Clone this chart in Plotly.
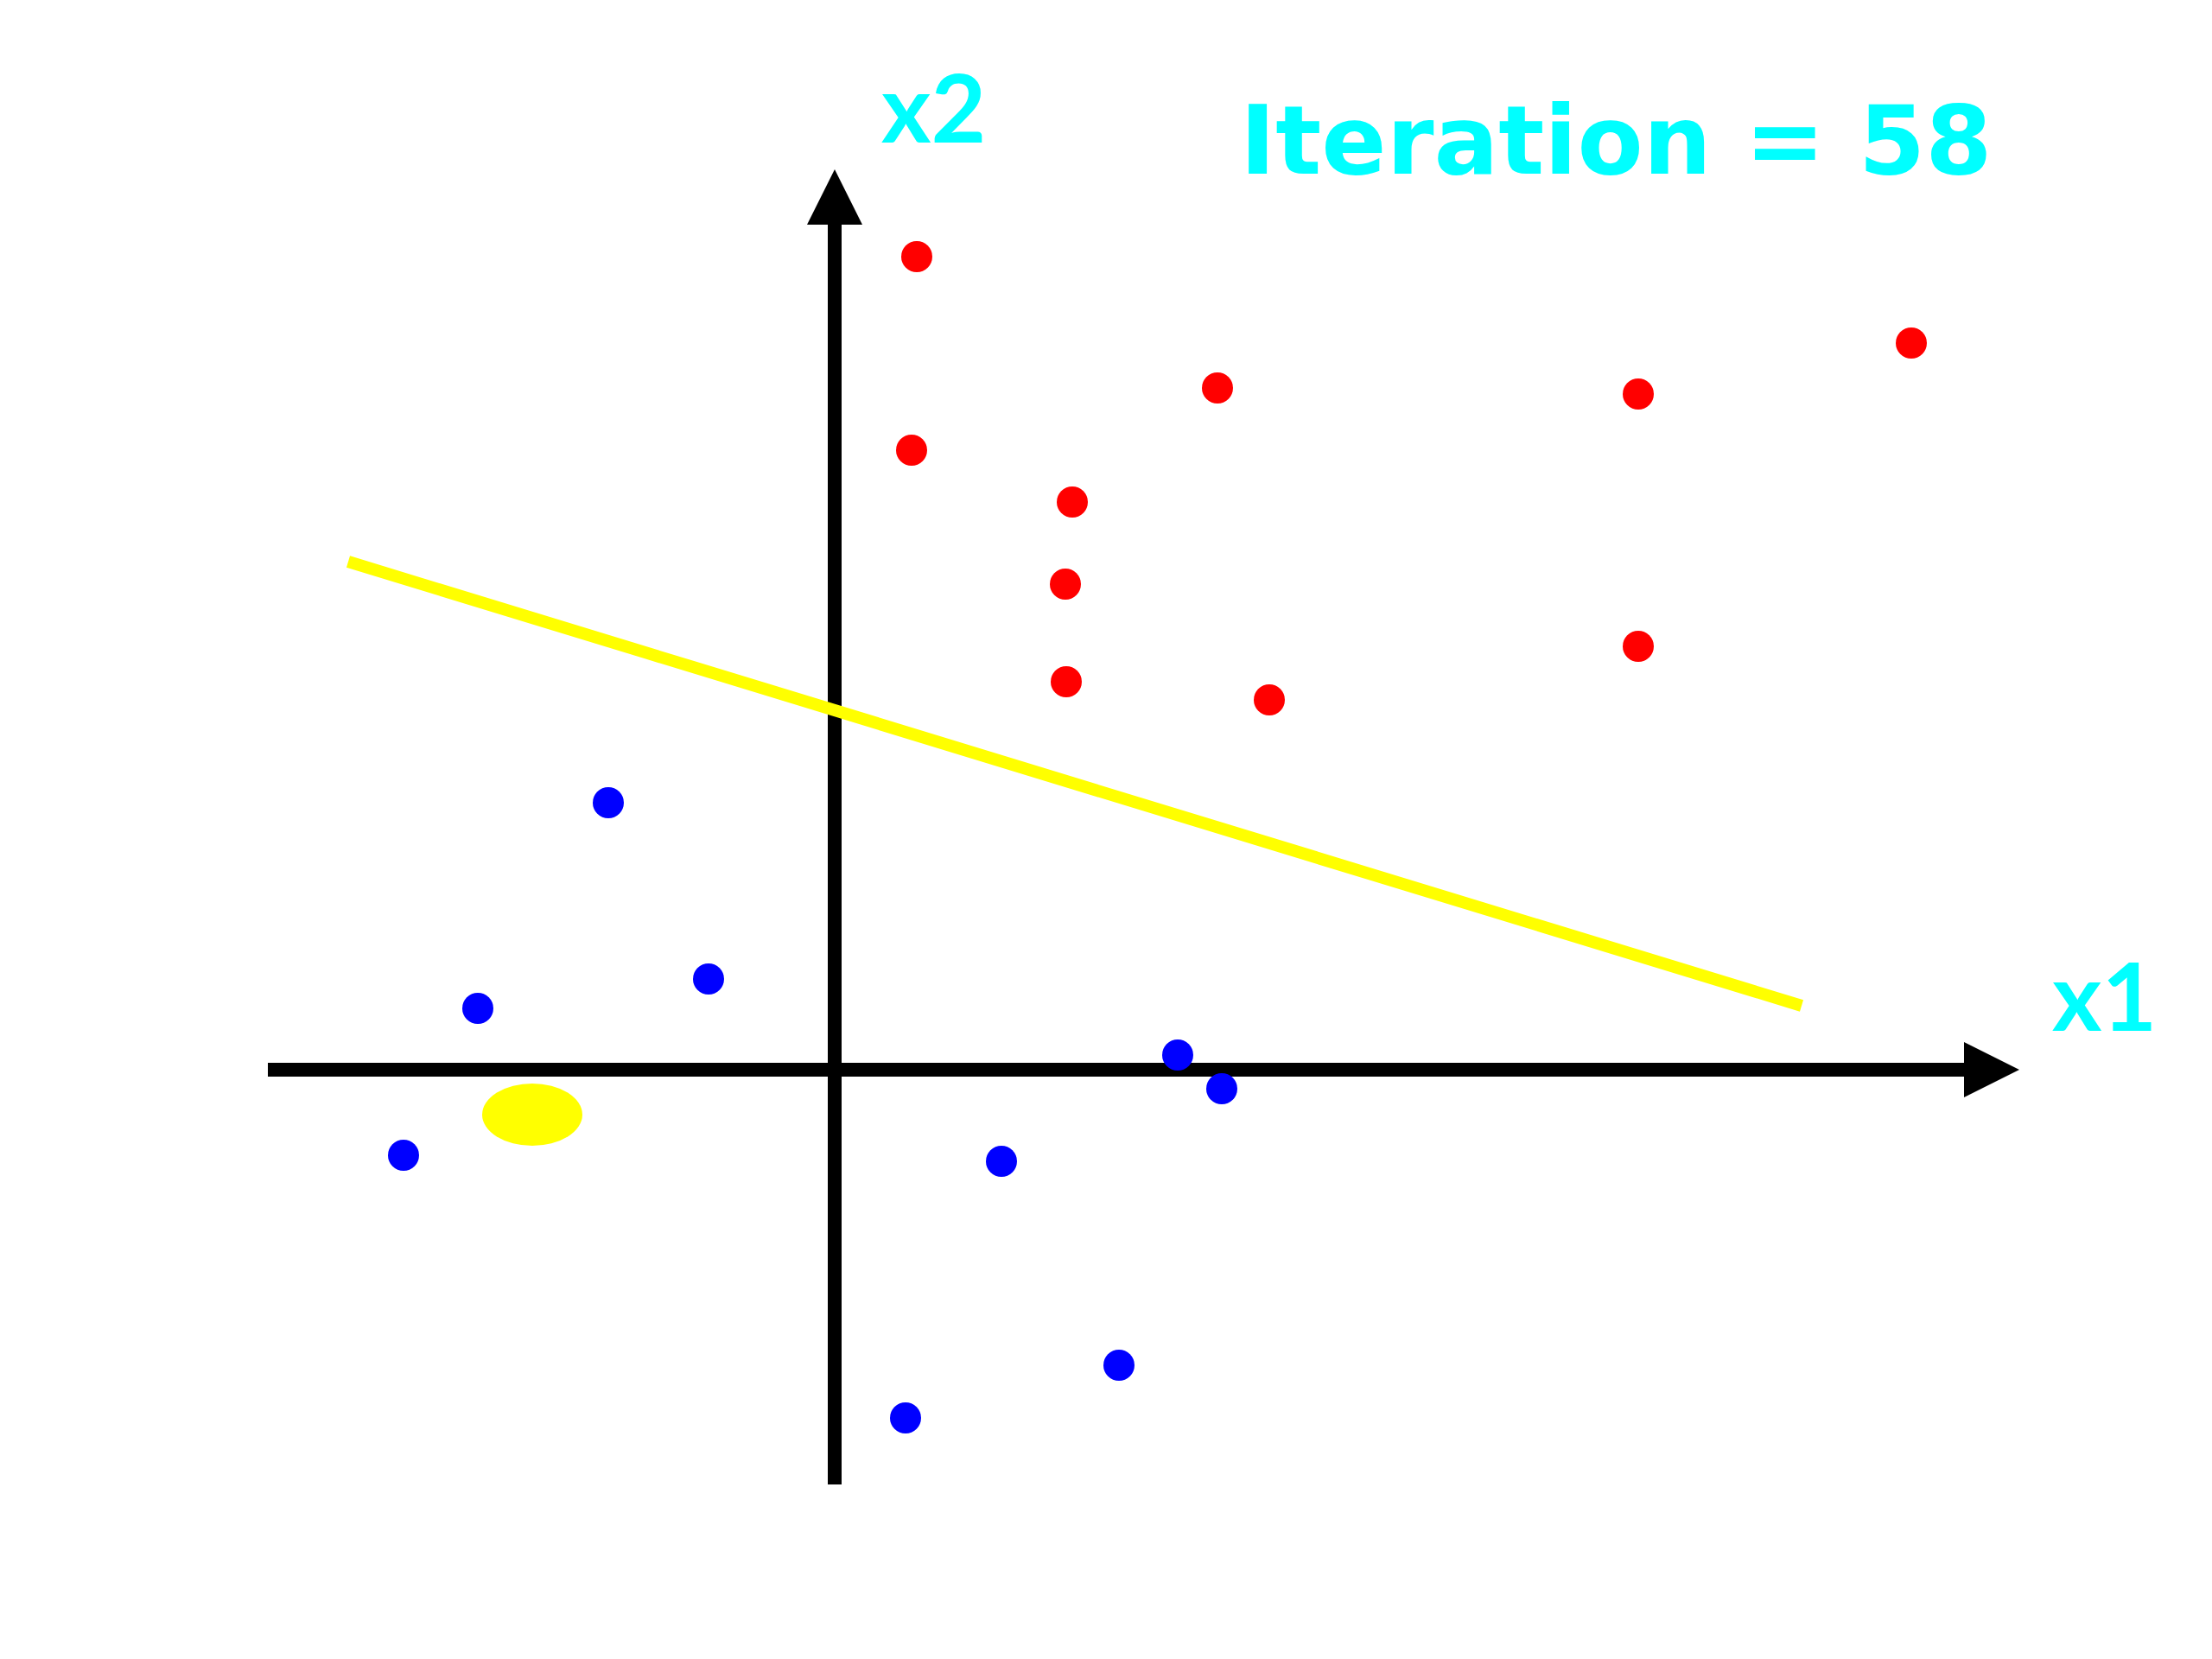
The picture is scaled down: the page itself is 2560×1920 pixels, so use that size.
import plotly.graph_objects as go

# Data (units: 1 unit = 100 px in the reference, origin at axes crossing)
red_x = [0.95, 4.43, 9.30, 12.46, 0.89, 2.75, 2.67, 2.68, 5.03, 9.30]
red_y = [9.41, 7.89, 7.82, 8.41, 7.17, 6.57, 5.62, 4.49, 4.28, 4.90]

blue_x = [-2.62, -4.13, -1.46, -4.99, 3.97, 4.48, 1.93, 3.29, 0.82]
blue_y = [3.09, 0.71, 1.05, -0.99, 0.17, -0.22, -1.06, -3.42, -4.03]

boundary_x = [-5.63, 11.19]
boundary_y = [5.88, 0.74]

highlight_center = (-3.50, -0.52)
highlight_size = (1.16, 0.72)

iteration = 58

x_axis_span = (-6.56, 13.07, 13.71)   # start, shaft end, tip
y_axis_span = (-4.80, 9.78, 10.42)
arrow_half = 0.32

fig = go.Figure()

fig.add_trace(go.Scatter(x=boundary_x, y=boundary_y, mode="lines",
                         line=dict(color="#ffff00", width=14), showlegend=False,
                         hoverinfo="skip"))
fig.add_trace(go.Scatter(x=red_x, y=red_y, mode="markers",
                         marker=dict(color="#ff0000", size=36, line=dict(width=0)),
                         showlegend=False))
fig.add_trace(go.Scatter(x=blue_x, y=blue_y, mode="markers",
                         marker=dict(color="#0000ff", size=36, line=dict(width=0)),
                         showlegend=False))

cx, cy = highlight_center
w, h = highlight_size
shapes = [
    dict(type="line", xref="x", yref="y", x0=x_axis_span[0], y0=0, x1=x_axis_span[1], y1=0,
         line=dict(color="black", width=16), layer="below"),
    dict(type="path", xref="x", yref="y",
         path=f"M {x_axis_span[1]} {-arrow_half} L {x_axis_span[2]} 0 L {x_axis_span[1]} {arrow_half} Z",
         fillcolor="black", line=dict(width=0), layer="below"),
    dict(type="line", xref="x", yref="y", x0=0, y0=y_axis_span[0], x1=0, y1=y_axis_span[1],
         line=dict(color="black", width=16), layer="below"),
    dict(type="path", xref="x", yref="y",
         path=f"M {-arrow_half} {y_axis_span[1]} L 0 {y_axis_span[2]} L {arrow_half} {y_axis_span[1]} Z",
         fillcolor="black", line=dict(width=0), layer="below"),
    dict(type="circle", xref="x", yref="y", x0=cx - w / 2, x1=cx + w / 2,
         y0=cy - h / 2, y1=cy + h / 2, fillcolor="#ffff00", line=dict(width=0), layer="below"),
]

annotations = [
    dict(x=1.14, y=11.16, xref="x", yref="y", text="x2", showarrow=False,
         font=dict(family="Lato", size=110, color="#00ffff", weight="bold"),
         xanchor="center", yanchor="middle"),
    dict(x=14.69, y=0.88, xref="x", yref="y", text="x1", showarrow=False,
         font=dict(family="Lato", size=110, color="#00ffff", weight="bold"),
         xanchor="center", yanchor="middle"),
    dict(x=9.04, y=10.76, xref="x", yref="y", text=f"Iteration = {iteration}", showarrow=False,
         font=dict(family="DejaVu Sans", size=111, color="#00ffff", weight="bold"),
         xanchor="center", yanchor="middle"),
]

fig.update_layout(
    width=2560, height=1920,
    margin=dict(l=0, r=0, t=0, b=0),
    paper_bgcolor="white", plot_bgcolor="white",
    xaxis=dict(range=[-9.58, 16.02], visible=False, fixedrange=True),
    yaxis=dict(range=[-6.90, 12.30], visible=False, fixedrange=True),
    shapes=shapes, annotations=annotations, showlegend=False,
)

fig.write_html("out.html")
